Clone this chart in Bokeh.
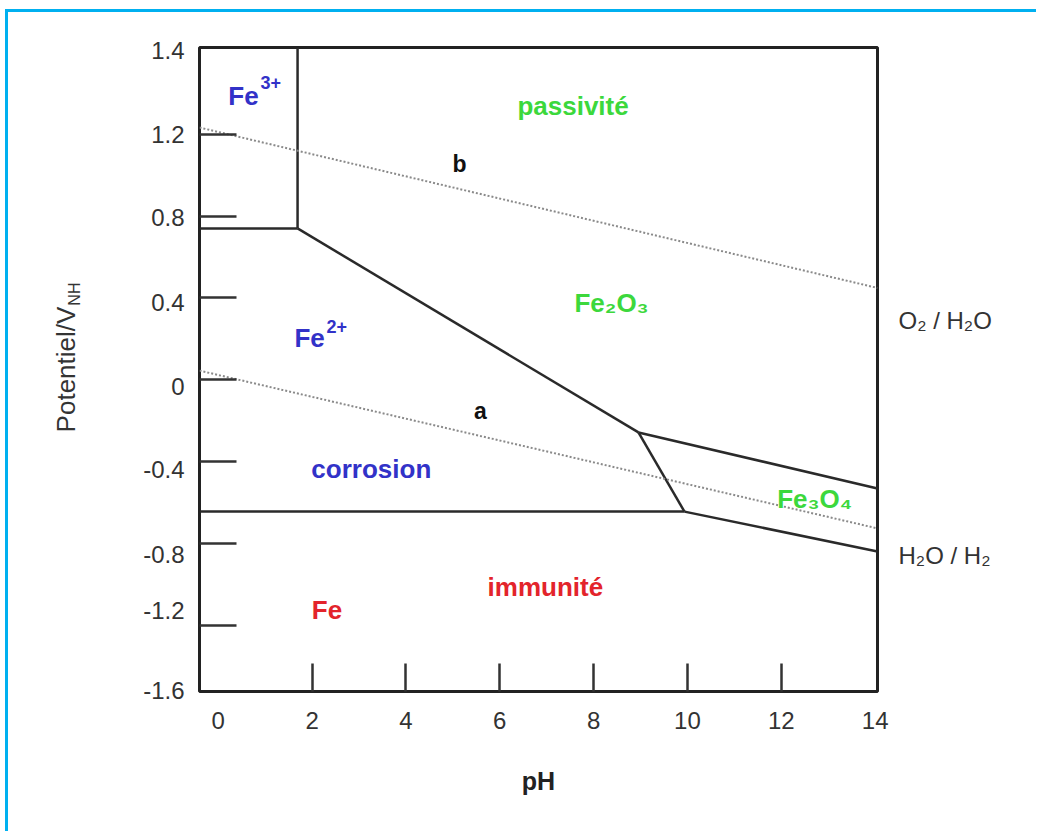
from bokeh.plotting import figure
from bokeh.models import Range1d, LinearAxis, FixedTicker
from bokeh.core.properties import value
from bokeh.embed import file_html
from bokeh.resources import INLINE

# ---------------- data (pH, potential / V) ----------------
ph_range = [-0.40, 14.05]
e_range = [-1.523, 1.624]

# stability-domain boundaries (solid lines), one segment per entry
boundary_ph = [[1.69, 1.69], [-0.40, 1.69], [1.69, 8.955], [8.955, 14.05],
               [8.955, 9.936], [-0.40, 9.936], [9.936, 14.05]]
boundary_e = [[1.624, 0.74], [0.74, 0.74], [0.74, -0.257], [-0.257, -0.531],
              [-0.257, -0.644], [-0.644, -0.644], [-0.644, -0.839]]

# water stability lines (dotted): a = H2O/H2, b = O2/H2O
line_a_ph = [-0.40, 14.05]
line_a_e = [0.045, -0.726]
line_b_ph = [-0.40, 14.05]
line_b_e = [1.233, 0.449]

# axes
x_tick_marks = [2, 4, 6, 8, 10, 12]
x_tick_labels = [0, 2, 4, 6, 8, 10, 12, 14]
y_tick_marks = [1.2, 0.8, 0.4, 0.0, -0.4, -0.8, -1.2]
y_tick_labels = ["1.4", "1.2", "0.8", "0.4", "0", "-0.4", "-0.8", "-1.2", "-1.6"]
y_label_pos = [1.61, 1.2, 0.795, 0.38, -0.035, -0.44, -0.855, -1.125, -1.52]
y_title = "Potentiel/V"
y_title_sub = "NH"
y_title_sub_pos = 0.419

# couple labels at the right-hand end of the water lines
couple_labels = ["O₂ / H₂O", "H₂O / H₂"]
couple_pos = [0.29, -0.859]

# region labels (text centres)
ion_names = ["Fe", "Fe"]
ion_charges = ["3+", "2+"]
ion_x = [0.215, 1.623]
ion_y = [1.386, 0.203]
charge_x = [0.898, 2.305]
charge_y = [1.451, 0.263]

region_names = ["corrosion", "Fe", "immunité", "passivité", "Fe₂O₃", "Fe₃O₄"]
region_x = [3.262, 2.318, 6.972, 7.561, 8.382, 12.71]
region_y = [-0.437, -1.126, -1.014, 1.337, 0.374, -0.584]

line_names = ["a", "b"]
line_name_x = [5.586, 5.14]
line_name_y = [-0.153, 1.054]

# ---------------- styles ----------------
FONT = "Liberation Sans"
BLUE = "#3232c8"
RED = "#e3242b"
GREEN = "#3cd83c"
FRAME_BLUE = "#00b0f0"

p = figure(width=1036, height=831,
           x_range=Range1d(*ph_range), y_range=Range1d(*e_range),
           x_axis_location=None, y_axis_location=None,
           output_backend="svg", toolbar_location=None,
           min_border_left=199, min_border_right=159,
           min_border_top=47, min_border_bottom=140)
p.xgrid.visible = False
p.ygrid.visible = False
p.outline_line_color = "#222222"
p.outline_line_width = 3
p.border_fill_color = None
p.background_fill_color = "white"
p.styles = {
    "background": (f"linear-gradient({FRAME_BLUE}, {FRAME_BLUE}) 5px 9px / 1031px 3px no-repeat, "
                   f"linear-gradient({FRAME_BLUE}, {FRAME_BLUE}) 5px 9px / 3px 822px no-repeat, "
                   "#ffffff"),
}

# boundaries
p.multi_line(xs=boundary_ph, ys=boundary_e, line_color="#2a2a2a", line_width=2.5)
p.line(line_a_ph, line_a_e, line_color="#8a8a8a", line_width=2, line_dash="2 2")
p.line(line_b_ph, line_b_e, line_color="#8a8a8a", line_width=2, line_dash="2 2")

# texts
common = dict(text_font=value(FONT), text_font_style="bold", text_baseline="middle")
p.text(x=ion_x, y=ion_y, text=ion_names, text_color=BLUE, text_font_size="26px",
       text_align="left", **common)
p.text(x=charge_x, y=charge_y, text=ion_charges, text_color=BLUE, text_font_size="18px",
       text_align="left", **common)
p.text(x=region_x, y=region_y, text=region_names,
       text_color=[BLUE, RED, RED, GREEN, GREEN, GREEN], text_font_size="26px",
       text_align="center", **common)
p.text(x=line_name_x, y=line_name_y, text=line_names, text_color="#111111",
       text_font_size="23px", text_align="center", **common)

tick_style = dict(major_label_text_font=FONT, major_label_text_font_size="24px",
                  major_label_text_color="#333333", minor_tick_line_color=None,
                  axis_line_color=None)

# left: inner tick marks, then shifted labels, then the title
y_ticks_axis = LinearAxis(ticker=FixedTicker(ticks=y_tick_marks, minor_ticks=[]),
                          major_tick_in=37, major_tick_out=0,
                          major_tick_line_width=2.5, major_tick_line_color="#333333",
                          major_label_overrides={t: "" for t in y_tick_marks},
                          major_label_standoff=0, **tick_style)
y_ticks_axis.major_label_text_font_size = "1px"
p.add_layout(y_ticks_axis, "left")
y_labels_axis = LinearAxis(ticker=FixedTicker(ticks=y_label_pos, minor_ticks=[]),
                           major_tick_in=0, major_tick_out=0,
                           major_label_overrides=dict(zip(y_label_pos, y_tick_labels)),
                           major_label_standoff=15, **tick_style)
p.add_layout(y_labels_axis, "left")
y_title_axis = LinearAxis(ticker=FixedTicker(ticks=[y_title_sub_pos], minor_ticks=[]),
                          major_tick_in=0, major_tick_out=0,
                          major_label_overrides={y_title_sub_pos: y_title_sub},
                          major_label_orientation="vertical",
                          major_label_standoff=57,
                          axis_label=y_title, axis_label_text_font=FONT,
                          axis_label_text_font_size="26px", axis_label_text_font_style="normal",
                          axis_label_text_color="#333333", axis_label_standoff=-17,
                          **tick_style)
y_title_axis.major_label_text_font_size = "16px"
p.add_layout(y_title_axis, "left")

# bottom: inner tick marks, then labels
x_ticks_axis = LinearAxis(ticker=FixedTicker(ticks=x_tick_marks, minor_ticks=[]),
                          major_tick_in=28, major_tick_out=0,
                          major_tick_line_width=2.5, major_tick_line_color="#333333",
                          major_label_overrides={t: "" for t in x_tick_marks},
                          major_label_standoff=0, **tick_style)
x_ticks_axis.major_label_text_font_size = "1px"
p.add_layout(x_ticks_axis, "below")
x_labels_axis = LinearAxis(ticker=FixedTicker(ticks=x_tick_labels, minor_ticks=[]),
                           major_tick_in=0, major_tick_out=0, major_label_standoff=20,
                           axis_label="pH", axis_label_text_font=FONT,
                           axis_label_text_font_size="25px", axis_label_text_font_style="bold",
                           axis_label_text_color="#222222", axis_label_standoff=35,
                           **tick_style)
p.add_layout(x_labels_axis, "below")

# right: couple labels
couple_axis = LinearAxis(ticker=FixedTicker(ticks=couple_pos, minor_ticks=[]),
                         major_tick_in=0, major_tick_out=0, major_label_standoff=21,
                         major_label_overrides=dict(zip(couple_pos, couple_labels)),
                         **tick_style)
p.add_layout(couple_axis, "right")

open("out.html", "w").write(file_html(p, INLINE))
